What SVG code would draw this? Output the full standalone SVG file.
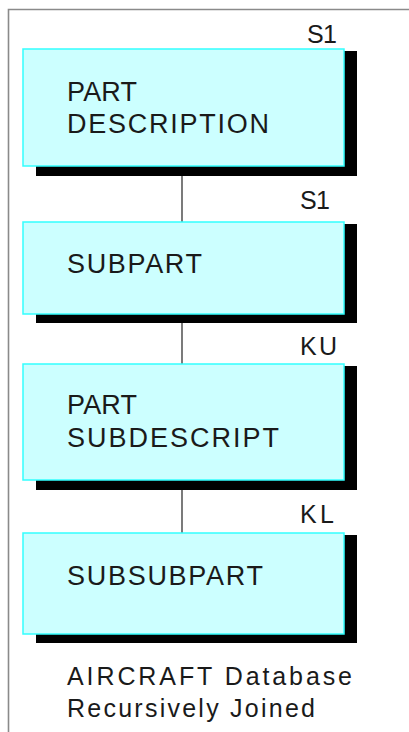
<svg xmlns="http://www.w3.org/2000/svg" width="409" height="732" viewBox="0 0 409 732">
<style>
.box{fill:#CCFFFF;stroke:#33FFFF;stroke-width:1.5}
.sh{fill:#000}
.t{font-family:"Liberation Sans",Arial,sans-serif;font-size:27px;fill:#1a1a1a}
.lb{font-family:"Liberation Sans",Arial,sans-serif;font-size:25px;fill:#1a1a1a}
.cap{font-family:"Liberation Sans",Arial,sans-serif;font-size:25px;fill:#1a1a1a}
.ln{stroke:#333;stroke-width:1.3;fill:none}
</style>
<rect width="409" height="732" fill="#fff"/>
<path d="M409 9.5H8.5V732" fill="none" stroke="#8a8a8a" stroke-width="1.6"/>
<g id="connectors">
<line class="ln" x1="182" y1="166" x2="182" y2="222"/>
<line class="ln" x1="182" y1="314" x2="182" y2="364"/>
<line class="ln" x1="182" y1="480" x2="182" y2="533"/>
</g>
<g id="n1">
<rect class="sh" x="36" y="51" width="321" height="125"/>
<rect class="box" x="23" y="49" width="321" height="117"/>
<text class="t" x="67" y="101" textLength="70" lengthAdjust="spacing">PART</text>
<text class="t" x="67" y="133" textLength="202" lengthAdjust="spacing">DESCRIPTION</text>
<text class="lb" x="307" y="43" textLength="30" lengthAdjust="spacing">S1</text>
</g>
<g id="n2">
<rect class="sh" x="36" y="224" width="321" height="99"/>
<rect class="box" x="23" y="222" width="321" height="92"/>
<text class="t" x="67" y="273" textLength="135" lengthAdjust="spacing">SUBPART</text>
<text class="lb" x="300" y="209" textLength="30" lengthAdjust="spacing">S1</text>
</g>
<g id="n3">
<rect class="sh" x="36" y="366" width="321" height="124"/>
<rect class="box" x="23" y="364" width="321" height="116"/>
<text class="t" x="67" y="414" textLength="70" lengthAdjust="spacing">PART</text>
<text class="t" x="67" y="447" textLength="212" lengthAdjust="spacing">SUBDESCRIPT</text>
<text class="lb" x="300" y="355" textLength="37" lengthAdjust="spacing">KU</text>
</g>
<g id="n4">
<rect class="sh" x="36" y="535" width="321" height="108"/>
<rect class="box" x="23" y="533" width="321" height="101"/>
<text class="t" x="67" y="585" textLength="196" lengthAdjust="spacing">SUBSUBPART</text>
<text class="lb" x="300" y="523" textLength="34" lengthAdjust="spacing">KL</text>
</g>
<g id="caption">
<text class="cap" x="67" y="685" textLength="285" lengthAdjust="spacing">AIRCRAFT Database</text>
<text class="cap" x="67" y="717" textLength="248" lengthAdjust="spacing">Recursively Joined</text>
</g>
</svg>
